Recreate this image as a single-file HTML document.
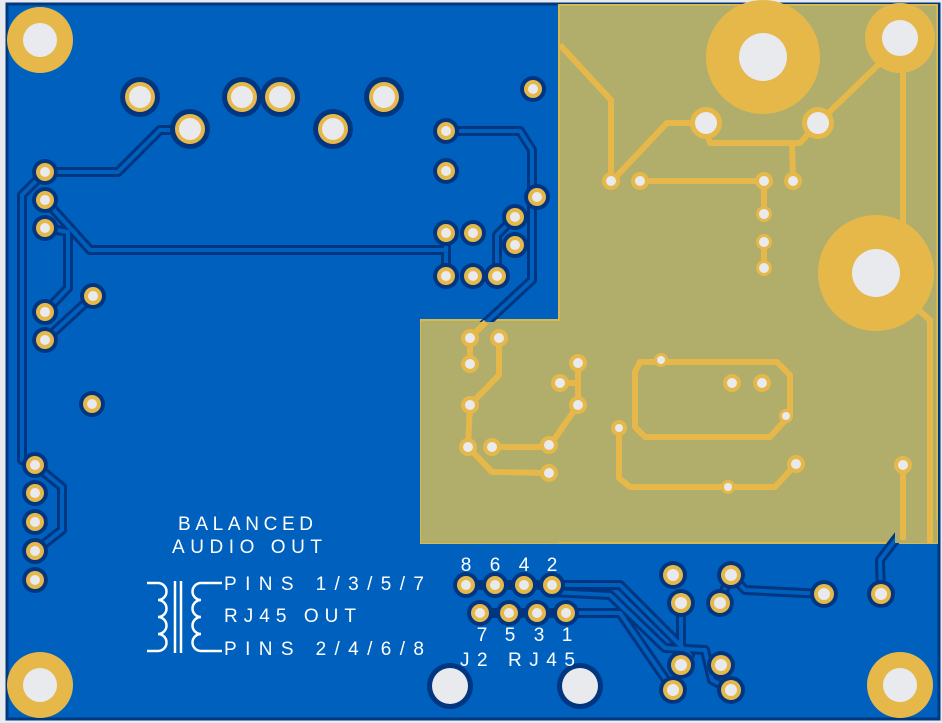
<!DOCTYPE html>
<html><head><meta charset="utf-8"><style>
html,body{margin:0;padding:0;background:#e8eaee;}
svg{display:block}
text{font-family:"Liberation Sans",sans-serif;fill:#fff;font-size:19px}
</style></head><body>
<svg width="942" height="723" viewBox="0 0 942 723" xmlns="http://www.w3.org/2000/svg">
<rect x="0" y="0" width="942" height="723" fill="#e8eaee"/>
<rect x="7" y="4" width="932" height="715" fill="#0060be" stroke="#003880" stroke-width="3"/>
<polygon points="559,5 937,5 937,543 421,543 421,320 559,320" fill="#b0ae6a" stroke="#d9b850" stroke-width="2"/>

<g fill="none" stroke-linejoin="round">
<g stroke="#00357f" stroke-width="10">
<path d="M45,172 L118,172 L160,130 L190,130"/>
<path d="M45,172 L22,195 L22,460 L35,465"/>
<path d="M45,200 L90,250 L446,250 L446,233"/>
<path d="M446,250 L446,276"/>
<path d="M45,228 L68,232 L68,288 L45,312"/>
<path d="M93,296 L45,340"/>
<path d="M35,465 L62,487 L62,530 L35,551"/>
<path d="M446,131 L520,131 L532,150 L532,280 L478,330"/>
<path d="M515,217 L497,235 L497,276"/>
<path d="M552,585 L620,585 L690,655 L681,665"/>
<path d="M566,613 L620,613 L673,690"/>
<path d="M466,585 L552,585"/><path d="M480,613 L566,613"/>
<path d="M552,592 L610,595 L665,648 L705,650 L712,680 L731,690"/>
<path d="M681,603 L681,648"/>
<path d="M731,575 L745,590 L824,594"/>
<path d="M720,603 L728,580"/>
<path d="M903,530 L880,560 L881,594"/>
</g>
<g stroke="#0060be" stroke-width="4">
<path d="M45,172 L118,172 L160,130 L190,130"/>
<path d="M45,172 L22,195 L22,460 L35,465"/>
<path d="M45,200 L90,250 L446,250 L446,233"/>
<path d="M446,250 L446,276"/>
<path d="M45,228 L68,232 L68,288 L45,312"/>
<path d="M93,296 L45,340"/>
<path d="M35,465 L62,487 L62,530 L35,551"/>
<path d="M446,131 L520,131 L532,150 L532,280 L478,330"/>
<path d="M515,217 L497,235 L497,276"/>
<path d="M552,585 L620,585 L690,655 L681,665"/>
<path d="M566,613 L620,613 L673,690"/>
<path d="M552,592 L610,595 L665,648 L705,650 L712,680 L731,690"/>
<path d="M681,603 L681,648"/>
<path d="M731,575 L745,590 L824,594"/>
<path d="M720,603 L728,580"/>
<path d="M903,530 L880,560 L881,594"/>
</g>
</g>
<!-- re-cover olive where blue traces overshoot -->
<polygon points="421,322 559,322 559,543 421,543" fill="#b0ae6a"/>
<polygon points="895,520 937,520 937,543 895,543" fill="#b0ae6a"/>

<g fill="none" stroke="#e6b84a" stroke-width="6" stroke-linejoin="round">
<path d="M560,45 L611,100 L611,181"/>
<path d="M612,181 L667,123 L705,123"/>
<path d="M706,130 L710,143 L800,143 L818,123"/>
<path d="M792,143 L793,181"/>
<path d="M640,181 L764,181 L764,214"/>
<path d="M764,242 L764,268"/>
<path d="M818,123 L878,65 L900,38"/>
<path d="M903,70 L903,230"/>
<path d="M876,273 L930,320 L930,543"/>
<path d="M903,464 L903,540"/>
<path d="M470,338 L470,364"/>
<path d="M499,338 L499,375 L470,405 L468,447 L492,472 L549,473"/>
<path d="M492,447 L549,447 L578,405 L578,363"/>
<path d="M560,383 L578,383"/>
<path d="M640,362 L777,362 L790,375 L790,415 L770,437 L645,437 L635,427 L635,372 Z"/>
<path d="M619,428 L619,478 L630,487 L775,487 L796,464"/>
<path d="M486,322 L470,338"/>
</g>

<g fill="#e6b84a">
<circle cx="40" cy="40" r="33"/><circle cx="40" cy="685" r="33"/>
<circle cx="900" cy="685" r="33"/><circle cx="900" cy="38" r="35"/>
<circle cx="763" cy="57" r="57"/><circle cx="876" cy="273" r="58"/>
<circle cx="706" cy="123" r="16"/><circle cx="818" cy="123" r="16"/>
</g>
<g fill="#e8eaee">
<circle cx="40" cy="40" r="17"/><circle cx="40" cy="685" r="17"/>
<circle cx="900" cy="685" r="17"/><circle cx="900" cy="38" r="18"/>
<circle cx="763" cy="57" r="24"/><circle cx="876" cy="273" r="24"/>
<circle cx="706" cy="123" r="11"/><circle cx="818" cy="123" r="11"/>
</g>

<g>
<g fill="#00357f">
<circle cx="140" cy="97" r="20"/><circle cx="242" cy="97" r="20"/><circle cx="280" cy="97" r="20"/><circle cx="384" cy="97" r="20"/><circle cx="190" cy="129" r="20"/><circle cx="333" cy="129" r="20"/>
<circle cx="450" cy="686" r="23"/><circle cx="580" cy="686" r="23"/>
</g>
<g fill="#e6b84a">
<circle cx="140" cy="97" r="15"/><circle cx="242" cy="97" r="15"/><circle cx="280" cy="97" r="15"/><circle cx="384" cy="97" r="15"/><circle cx="190" cy="129" r="15"/><circle cx="333" cy="129" r="15"/>
</g>
<g fill="#e8eaee">
<circle cx="140" cy="97" r="11"/><circle cx="242" cy="97" r="11"/><circle cx="280" cy="97" r="11"/><circle cx="384" cy="97" r="11"/><circle cx="190" cy="129" r="11"/><circle cx="333" cy="129" r="11"/>
<circle cx="450" cy="686" r="18"/><circle cx="580" cy="686" r="18"/>
</g>
</g>

<g>
<g fill="#00357f">
<circle cx="533" cy="89" r="13"/><circle cx="446" cy="131" r="13"/><circle cx="446" cy="171" r="13"/><circle cx="45" cy="172" r="13"/><circle cx="45" cy="200" r="13"/><circle cx="45" cy="228" r="13"/><circle cx="537" cy="197" r="13"/><circle cx="515" cy="217" r="13"/><circle cx="515" cy="245" r="13"/><circle cx="446" cy="233" r="13"/><circle cx="473" cy="233" r="13"/><circle cx="446" cy="276" r="13"/><circle cx="473" cy="276" r="13"/><circle cx="497" cy="276" r="13"/><circle cx="93" cy="296" r="13"/><circle cx="45" cy="312" r="13"/><circle cx="45" cy="340" r="13"/><circle cx="92" cy="404" r="13"/><circle cx="35" cy="465" r="13"/><circle cx="35" cy="493" r="13"/><circle cx="35" cy="522" r="13"/><circle cx="35" cy="551" r="13"/><circle cx="35" cy="580" r="13"/>
<circle cx="466" cy="585" r="13"/><circle cx="495" cy="585" r="13"/><circle cx="524" cy="585" r="13"/><circle cx="552" cy="585" r="13"/><circle cx="480" cy="613" r="13"/><circle cx="509" cy="613" r="13"/><circle cx="537" cy="613" r="13"/><circle cx="566" cy="613" r="13"/>
<circle cx="673" cy="575" r="14"/><circle cx="681" cy="603" r="14"/><circle cx="731" cy="575" r="14"/><circle cx="720" cy="603" r="14"/><circle cx="824" cy="594" r="14"/><circle cx="881" cy="594" r="14"/><circle cx="681" cy="665" r="14"/><circle cx="673" cy="690" r="14"/><circle cx="721" cy="665" r="14"/><circle cx="731" cy="690" r="14"/>
</g>
<g fill="#e6b84a">
<circle cx="533" cy="89" r="9"/><circle cx="446" cy="131" r="9"/><circle cx="446" cy="171" r="9"/><circle cx="45" cy="172" r="9"/><circle cx="45" cy="200" r="9"/><circle cx="45" cy="228" r="9"/><circle cx="537" cy="197" r="9"/><circle cx="515" cy="217" r="9"/><circle cx="515" cy="245" r="9"/><circle cx="446" cy="233" r="9"/><circle cx="473" cy="233" r="9"/><circle cx="446" cy="276" r="9"/><circle cx="473" cy="276" r="9"/><circle cx="497" cy="276" r="9"/><circle cx="93" cy="296" r="9"/><circle cx="45" cy="312" r="9"/><circle cx="45" cy="340" r="9"/><circle cx="92" cy="404" r="9"/><circle cx="35" cy="465" r="9"/><circle cx="35" cy="493" r="9"/><circle cx="35" cy="522" r="9"/><circle cx="35" cy="551" r="9"/><circle cx="35" cy="580" r="9"/>
<circle cx="466" cy="585" r="9"/><circle cx="495" cy="585" r="9"/><circle cx="524" cy="585" r="9"/><circle cx="552" cy="585" r="9"/><circle cx="480" cy="613" r="9"/><circle cx="509" cy="613" r="9"/><circle cx="537" cy="613" r="9"/><circle cx="566" cy="613" r="9"/>
<circle cx="673" cy="575" r="10"/><circle cx="681" cy="603" r="10"/><circle cx="731" cy="575" r="10"/><circle cx="720" cy="603" r="10"/><circle cx="824" cy="594" r="10"/><circle cx="881" cy="594" r="10"/><circle cx="681" cy="665" r="10"/><circle cx="673" cy="690" r="10"/><circle cx="721" cy="665" r="10"/><circle cx="731" cy="690" r="10"/>
</g>
<g fill="#e8eaee">
<circle cx="533" cy="89" r="5"/><circle cx="446" cy="131" r="5"/><circle cx="446" cy="171" r="5"/><circle cx="45" cy="172" r="5"/><circle cx="45" cy="200" r="5"/><circle cx="45" cy="228" r="5"/><circle cx="537" cy="197" r="5"/><circle cx="515" cy="217" r="5"/><circle cx="515" cy="245" r="5"/><circle cx="446" cy="233" r="5"/><circle cx="473" cy="233" r="5"/><circle cx="446" cy="276" r="5"/><circle cx="473" cy="276" r="5"/><circle cx="497" cy="276" r="5"/><circle cx="93" cy="296" r="5"/><circle cx="45" cy="312" r="5"/><circle cx="45" cy="340" r="5"/><circle cx="92" cy="404" r="5"/><circle cx="35" cy="465" r="5"/><circle cx="35" cy="493" r="5"/><circle cx="35" cy="522" r="5"/><circle cx="35" cy="551" r="5"/><circle cx="35" cy="580" r="5"/>
<circle cx="466" cy="585" r="5"/><circle cx="495" cy="585" r="5"/><circle cx="524" cy="585" r="5"/><circle cx="552" cy="585" r="5"/><circle cx="480" cy="613" r="5"/><circle cx="509" cy="613" r="5"/><circle cx="537" cy="613" r="5"/><circle cx="566" cy="613" r="5"/>
<circle cx="673" cy="575" r="6"/><circle cx="681" cy="603" r="6"/><circle cx="731" cy="575" r="6"/><circle cx="720" cy="603" r="6"/><circle cx="824" cy="594" r="6"/><circle cx="881" cy="594" r="6"/><circle cx="681" cy="665" r="6"/><circle cx="673" cy="690" r="6"/><circle cx="721" cy="665" r="6"/><circle cx="731" cy="690" r="6"/>
</g>
</g>

<g fill="#e6b84a">
<circle cx="611" cy="181" r="9"/><circle cx="640" cy="181" r="9"/><circle cx="764" cy="181" r="9"/><circle cx="793" cy="181" r="9"/><circle cx="764" cy="214" r="8"/><circle cx="764" cy="242" r="8"/><circle cx="764" cy="268" r="8"/>
<circle cx="470" cy="338" r="9"/><circle cx="499" cy="338" r="9"/><circle cx="470" cy="364" r="9"/><circle cx="578" cy="363" r="9"/><circle cx="560" cy="383" r="9"/><circle cx="470" cy="405" r="9"/><circle cx="578" cy="405" r="9"/><circle cx="468" cy="447" r="9"/><circle cx="492" cy="447" r="9"/><circle cx="549" cy="445" r="9"/><circle cx="549" cy="473" r="9"/>
<circle cx="661" cy="360" r="7"/><circle cx="732" cy="383" r="9"/><circle cx="762" cy="383" r="9"/><circle cx="786" cy="416" r="7"/><circle cx="619" cy="428" r="8"/><circle cx="796" cy="464" r="9"/><circle cx="728" cy="487" r="7"/><circle cx="903" cy="465" r="9"/>
</g>
<g fill="#e8eaee">
<circle cx="611" cy="181" r="5"/><circle cx="640" cy="181" r="5"/><circle cx="764" cy="181" r="5"/><circle cx="793" cy="181" r="5"/><circle cx="764" cy="214" r="5"/><circle cx="764" cy="242" r="5"/><circle cx="764" cy="268" r="5"/>
<circle cx="470" cy="338" r="5"/><circle cx="499" cy="338" r="5"/><circle cx="470" cy="364" r="5"/><circle cx="578" cy="363" r="5"/><circle cx="560" cy="383" r="5"/><circle cx="470" cy="405" r="5"/><circle cx="578" cy="405" r="5"/><circle cx="468" cy="447" r="5"/><circle cx="492" cy="447" r="5"/><circle cx="549" cy="445" r="5"/><circle cx="549" cy="473" r="5"/>
<circle cx="661" cy="360" r="4"/><circle cx="732" cy="383" r="5"/><circle cx="762" cy="383" r="5"/><circle cx="786" cy="416" r="4"/><circle cx="619" cy="428" r="4"/><circle cx="796" cy="464" r="5"/><circle cx="728" cy="487" r="4"/><circle cx="903" cy="465" r="5"/>
</g>

<text x="178" y="530" textLength="135" lengthAdjust="spacing">BALANCED</text>
<text x="172" y="553" textLength="150" lengthAdjust="spacing">AUDIO OUT</text>
<text x="224" y="590" textLength="200" lengthAdjust="spacing">PINS 1/3/5/7</text>
<text x="224" y="622" textLength="132" lengthAdjust="spacing">RJ45 OUT</text>
<text x="224" y="655" textLength="200" lengthAdjust="spacing">PINS 2/4/6/8</text>
<text x="466" y="571" text-anchor="middle">8</text><text x="495" y="571" text-anchor="middle">6</text><text x="524" y="571" text-anchor="middle">4</text><text x="552" y="571" text-anchor="middle">2</text>
<text x="482" y="641" text-anchor="middle">7</text><text x="510" y="641" text-anchor="middle">5</text><text x="539" y="641" text-anchor="middle">3</text><text x="567" y="641" text-anchor="middle">1</text>
<text x="460" y="666" textLength="115" lengthAdjust="spacing">J2 RJ45</text>
<g fill="none" stroke="#fff" stroke-width="2.5">
<path d="M147,583 L158,583 A8.5,8.5 0 0 1 158,600 A8.5,8.5 0 0 1 158,617 A8.5,8.5 0 0 1 158,634 A8.5,8.5 0 0 1 158,651 L147,651"/>
<path d="M175,581 V653 M181,581 V653"/>
<path d="M222,583 L201,583 A8.5,8.5 0 0 0 201,600 A8.5,8.5 0 0 0 201,617 A8.5,8.5 0 0 0 201,634 A8.5,8.5 0 0 0 201,651 L222,651"/>
</g>
</svg>
</body></html>
